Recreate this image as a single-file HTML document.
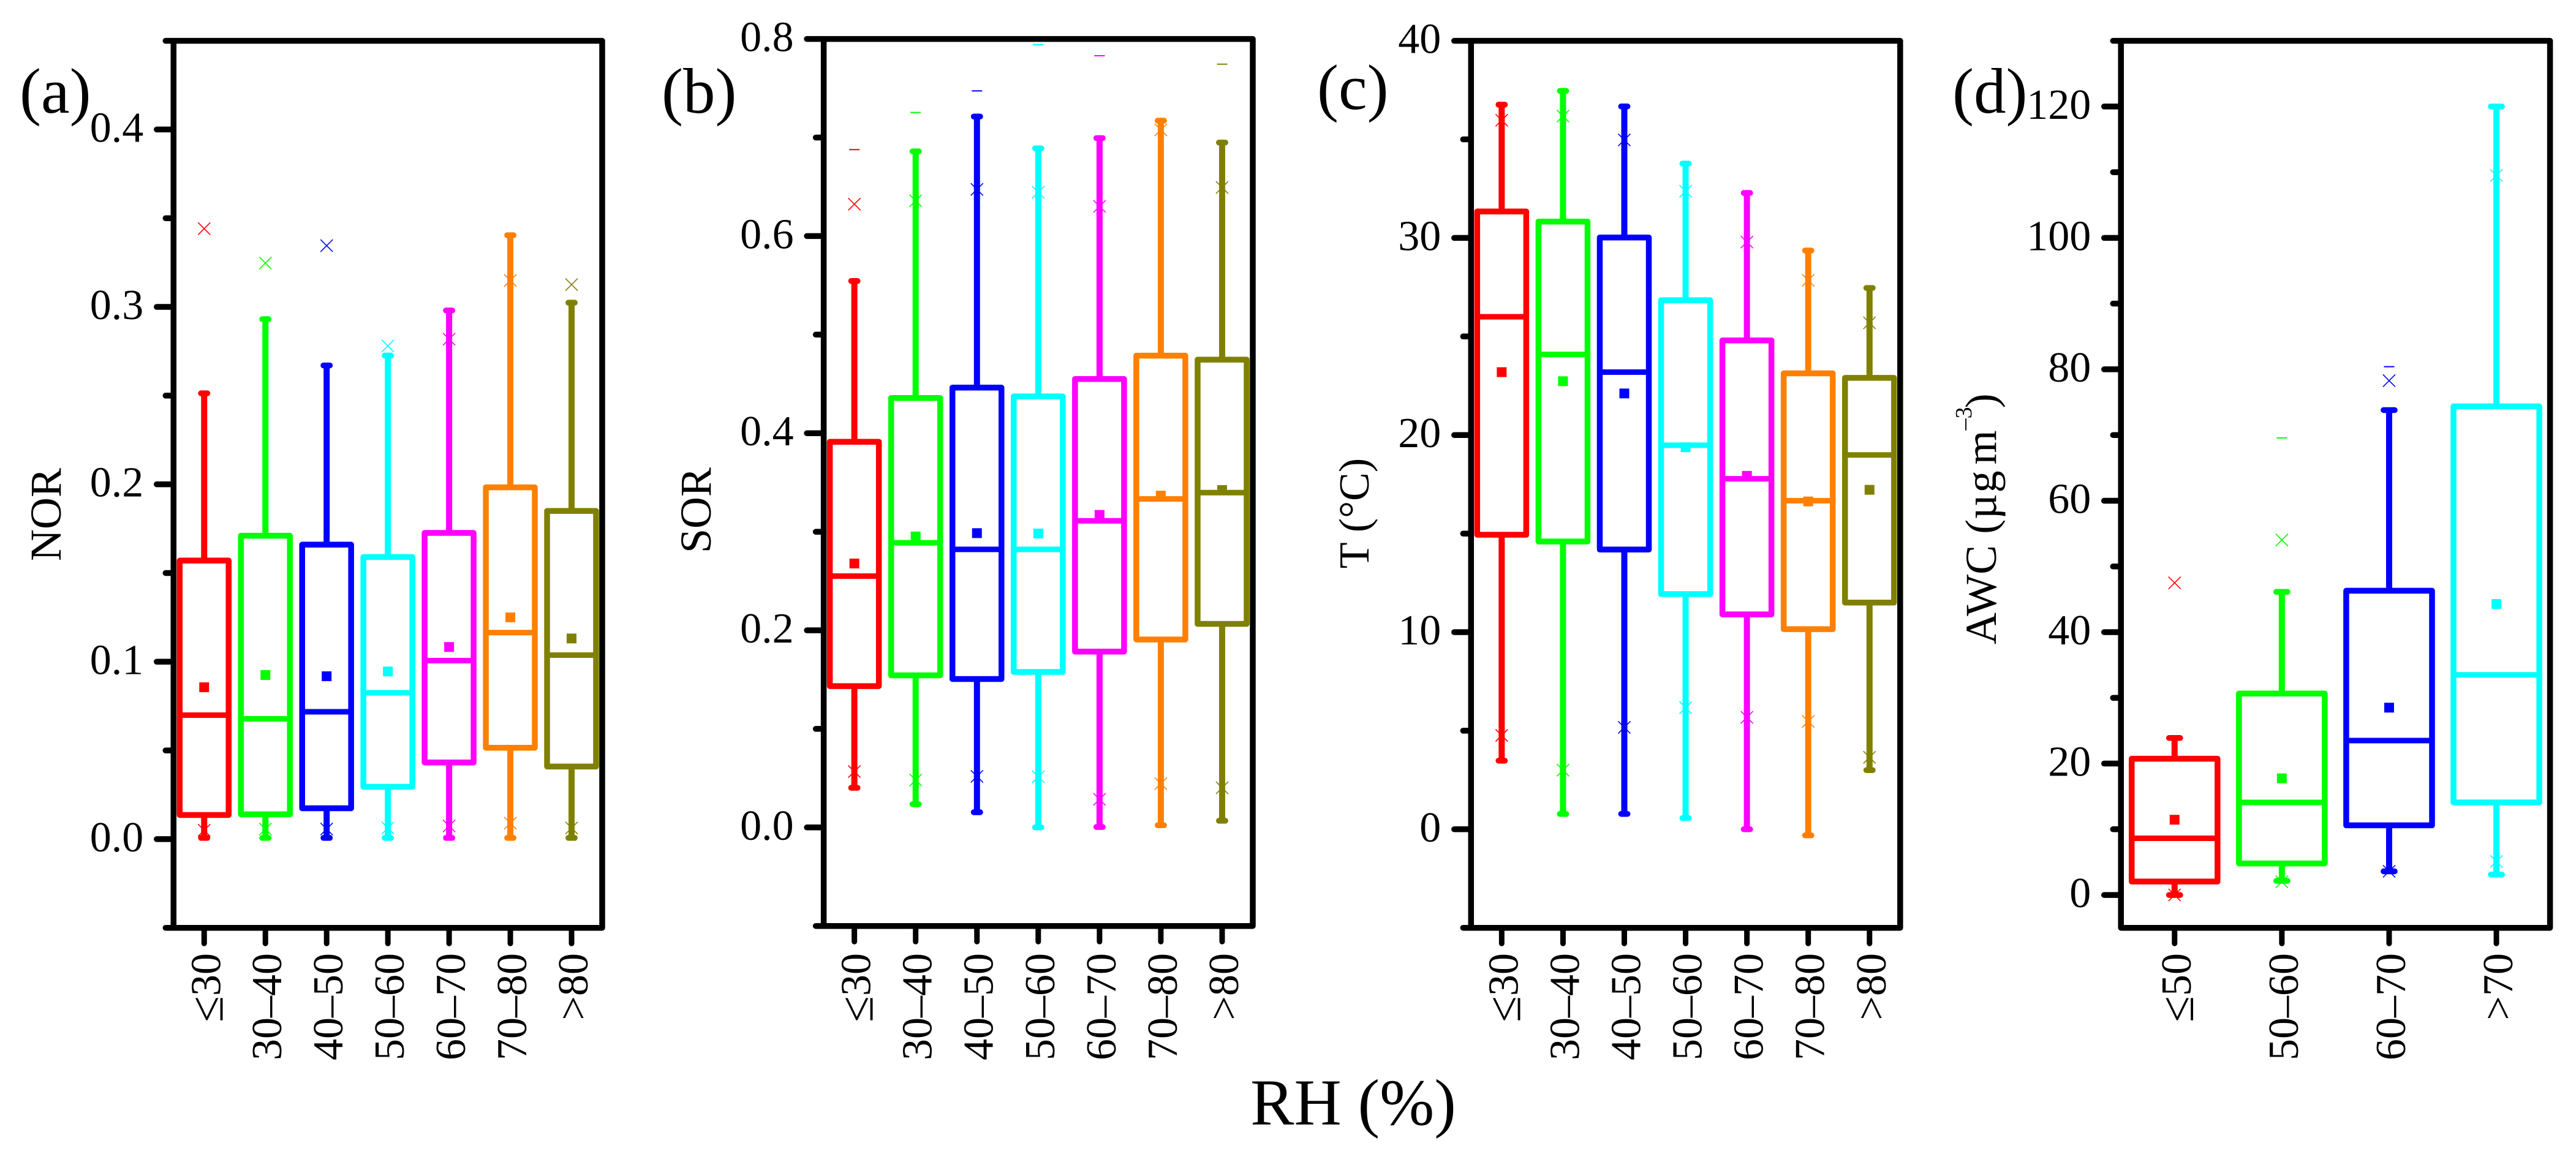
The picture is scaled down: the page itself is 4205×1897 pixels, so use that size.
<!DOCTYPE html>
<html lang="en">
<head>
<meta charset="utf-8">
<title>Box plots of NOR, SOR, T and AWC by RH</title>
<style>
html,body{margin:0;padding:0;background:#fff;width:4205px;height:1897px;overflow:hidden}
svg{display:block;position:absolute;left:0;top:0}
text{font-family:"Liberation Serif","Times New Roman",serif;fill:#000}
</style>
</head>
<body>
<svg id="figure" xmlns="http://www.w3.org/2000/svg" width="4205" height="1897" viewBox="0 0 4205 1897"></svg>
<script>
// ---- shared categories and colours
const rhCategories = ['≤30', '30–40', '40–50', '50–60', '60–70', '70–80', '>80'];
const awcCategories = ['≤50', '50–60', '60–70', '>70'];
const boxColors = ['#ff0000', '#00ff00', '#0000ff', '#00ffff', '#ff00ff', '#ff8000', '#808000'];

// ---- panel (a) NOR
const norMajorTicks = [0.0, 0.1, 0.2, 0.3, 0.4];
const norTickLabels = ['0.0', '0.1', '0.2', '0.3', '0.4'];
const norMinorTicks = [-0.05, 0.05, 0.15, 0.25, 0.35, 0.45];
const norQ1 = [0.0136, 0.014, 0.0174, 0.0295, 0.0432, 0.0515, 0.0409];
const norMedian = [0.0699, 0.0678, 0.0718, 0.0825, 0.1006, 0.1164, 0.1037];
const norQ3 = [0.157, 0.171, 0.166, 0.159, 0.1726, 0.1983, 0.185];
const norMean = [0.0856, 0.0925, 0.0918, 0.0945, 0.1083, 0.125, 0.1131];
const norWhiskerLow = [0.0007, 0.0007, 0.0007, 0.0007, 0.0007, 0.0007, 0.0007];
const norWhiskerHigh = [0.2513, 0.2931, 0.267, 0.2726, 0.298, 0.3404, 0.3024];
const norCrossLow = [0.005, 0.0057, 0.0057, 0.0063, 0.0074, 0.009, 0.0063];
const norCrossHigh = [0.3441, 0.3247, 0.3345, 0.278, 0.2818, 0.3149, 0.3126];
const norDash = [null, null, null, null, null, null, null];

// ---- panel (b) SOR
const sorMajorTicks = [0.0, 0.2, 0.4, 0.6, 0.8];
const sorTickLabels = ['0.0', '0.2', '0.4', '0.6', '0.8'];
const sorMinorTicks = [-0.1, 0.1, 0.3, 0.5, 0.7];
const sorQ1 = [0.1434, 0.1543, 0.1506, 0.1577, 0.1784, 0.1907, 0.2065];
const sorMedian = [0.255, 0.2888, 0.2821, 0.2821, 0.3111, 0.3333, 0.3397];
const sorQ3 = [0.3913, 0.4357, 0.4463, 0.4373, 0.455, 0.4787, 0.4746];
const sorMean = [0.2678, 0.2952, 0.2986, 0.2982, 0.3171, 0.3366, 0.3423];
const sorWhiskerLow = [0.0402, 0.0236, 0.0154, 0.0, 0.0004, 0.0022, 0.0068];
const sorWhiskerHigh = [0.5544, 0.6859, 0.7213, 0.689, 0.6994, 0.7171, 0.6949];
const sorCrossLow = [0.0567, 0.0481, 0.0518, 0.0514, 0.0285, 0.0444, 0.0402];
const sorCrossHigh = [0.6324, 0.6358, 0.6474, 0.6444, 0.6301, 0.7077, 0.6493];
const sorDash = [0.6877, 0.7254, 0.7473, 0.7943, 0.783, null, 0.7744];

// ---- panel (c) T
const tempMajorTicks = [0, 10, 20, 30, 40];
const tempTickLabels = ['0', '10', '20', '30', '40'];
const tempMinorTicks = [-5, 5, 15, 25, 35];
const tempQ1 = [14.94, 14.6, 14.19, 11.93, 10.9, 10.15, 11.5];
const tempMedian = [26.0, 24.09, 23.19, 19.48, 17.78, 16.67, 18.99];
const tempQ3 = [31.34, 30.83, 30.02, 26.84, 24.8, 23.13, 22.9];
const tempMean = [23.19, 22.73, 22.11, 19.38, 17.93, 16.63, 17.22];
const tempWhiskerLow = [3.48, 0.78, 0.78, 0.57, 0.0, -0.31, 3.0];
const tempWhiskerHigh = [36.76, 37.46, 36.67, 33.77, 32.28, 29.36, 27.46];
const tempCrossLow = [4.76, 3.0, 5.17, 6.17, 5.68, 5.47, 3.65];
const tempCrossHigh = [35.97, 36.18, 34.97, 32.37, 29.79, 27.85, 25.69];
const tempDash = [null, null, null, null, null, null, null];

// ---- panel (d) AWC
const awcMajorTicks = [0, 20, 40, 60, 80, 100, 120];
const awcTickLabels = ['0', '20', '40', '60', '80', '100', '120'];
const awcMinorTicks = [10, 30, 50, 70, 90, 110, 130];
const awcQ1 = [2.04, 4.8, 10.6, 14.08];
const awcMedian = [8.63, 14.08, 23.5, 33.5];
const awcQ3 = [20.74, 30.65, 46.3, 74.37];
const awcMean = [11.45, 17.75, 28.51, 44.28];
const awcWhiskerLow = [0.0, 2.15, 3.6, 3.11];
const awcWhiskerHigh = [23.89, 46.13, 73.8, 120.0];
const awcCrossLow = [0.0, 2.0, 3.6, 5.1];
const awcCrossHigh = [47.5, 54.03, 78.27, 109.5];
const awcDash = [null, 69.56, 80.4, null];

// ---- drawing helpers
const svg = document.getElementById('figure');
const NS = 'http://www.w3.org/2000/svg';
function make(parent, tag, attrs, text) {
  const el = document.createElementNS(NS, tag);
  for (const k in attrs) el.setAttribute(k, attrs[k]);
  if (text !== undefined) el.textContent = text;
  parent.appendChild(el);
  return el;
}

function drawPanel(p) {
  const yScale = v => p.bottom - (v - p.yMin) / (p.yMax - p.yMin) * (p.bottom - p.top);
  const step = (p.right - p.left) / p.categories.length;
  const xScale = i => p.left + step * (i + 0.5);
  const boxW = step * 0.8;
  const capHalf = boxW * 0.065;

  const panel = make(svg, 'g', {});
  
  

  // boxes
  p.categories.forEach((cat, i) => {
    const c = boxColors[i];
    const x = xScale(i);
    const g = make(panel, 'g', {stroke: c, fill: 'none'});
    
    

    const wHi = make(g, 'line', {x1: x, x2: x, y1: yScale(p.whiskerHigh[i]), y2: yScale(p.q3[i]), 'stroke-width': 10});
    
    
    const wLo = make(g, 'line', {x1: x, x2: x, y1: yScale(p.q1[i]), y2: yScale(p.whiskerLow[i]), 'stroke-width': 10});
    
    

    const capHi = make(g, 'line', {x1: x - capHalf, x2: x + capHalf, y1: yScale(p.whiskerHigh[i]), y2: yScale(p.whiskerHigh[i]), 'stroke-width': 9.5, 'stroke-linecap': 'round'});
    
    
    const capLo = make(g, 'line', {x1: x - capHalf, x2: x + capHalf, y1: yScale(p.whiskerLow[i]), y2: yScale(p.whiskerLow[i]), 'stroke-width': 9.5, 'stroke-linecap': 'round'});
    
    

    const rect = make(g, 'rect', {x: x - boxW / 2, y: yScale(p.q3[i]), width: boxW, height: yScale(p.q1[i]) - yScale(p.q3[i]), 'stroke-width': 9.5, 'stroke-linejoin': 'round'});
    
    
    const med = make(g, 'line', {x1: x - boxW / 2, x2: x + boxW / 2, y1: yScale(p.median[i]), y2: yScale(p.median[i]), 'stroke-width': 9});
    
    

    const mean = make(g, 'rect', {x: x - 8, y: yScale(p.mean[i]) - 8, width: 16, height: 16, fill: c, stroke: 'none'});
    
    

    [p.crossLow[i], p.crossHigh[i]].forEach(v => {
      const yy = yScale(v);
      const cross = make(g, 'path', {d: 'M' + (x - 10) + ' ' + (yy - 10) + 'L' + (x + 10) + ' ' + (yy + 10) + 'M' + (x - 10) + ' ' + (yy + 10) + 'L' + (x + 10) + ' ' + (yy - 10), 'stroke-width': 1.6});
      
      
    });

    if (p.dash[i] !== null) {
      const dash = make(g, 'line', {x1: x - 8.5, x2: x + 8.5, y1: yScale(p.dash[i]), y2: yScale(p.dash[i]), 'stroke-width': 2});
      
      
    }
  });

  // y ticks
  const sw = 9.5;
  p.majorTicks.forEach((v, i) => {
    const yy = yScale(v);
    const t = make(panel, 'line', {x1: p.left - 27.5, x2: p.left, y1: yy, y2: yy, stroke: '#000', 'stroke-width': 9.5, 'stroke-linecap': 'round'});
    
    
    const lab = make(panel, 'text', {x: p.left - 49, y: yy + 20, 'text-anchor': 'end', 'font-size': 70}, p.tickLabels[i]);
    
    
  });
  p.minorTicks.forEach(v => {
    const yy = yScale(v);
    const t = make(panel, 'line', {x1: p.left - 13, x2: p.left, y1: yy, y2: yy, stroke: '#000', 'stroke-width': 9.5, 'stroke-linecap': 'round'});
    
    
  });

  // x ticks and labels
  p.categories.forEach((cat, i) => {
    const x = xScale(i);
    const t = make(panel, 'line', {x1: x, x2: x, y1: p.bottom, y2: p.bottom + 25.5, stroke: '#000', 'stroke-width': 9, 'stroke-linecap': 'round'});
    
    
    const bx = x + 26;
    const lab = make(panel, 'text', {x: bx, y: 1556, 'text-anchor': 'end', 'font-size': 70, transform: 'rotate(-90 ' + bx + ' 1556)'});
    
    
    if (cat[0] === '≤') {
      make(lab, 'tspan', {'font-size': 78, dy: 4}, '≤');
      make(lab, 'tspan', {dy: -4}, cat.slice(1));
    } else {
      lab.textContent = cat;
    }
  });

  // frame
  const frame = make(panel, 'rect', {x: p.left, y: p.top, width: p.right - p.left, height: p.bottom - p.top, fill: 'none', stroke: '#000', 'stroke-width': sw, 'stroke-linejoin': 'round'});
  
  

  // panel letter
  const letter = make(panel, 'text', {x: p.letterX, y: p.letterY, 'font-size': 105}, p.letter);
  
  
}

drawPanel({id: 'a', letter: '(a)', letterX: 32, letterY: 184, left: 283.3, right: 983, top: 66.6, bottom: 1514.7, yMin: -0.05, yMax: 0.45,
  categories: rhCategories, majorTicks: norMajorTicks, tickLabels: norTickLabels, minorTicks: norMinorTicks,
  q1: norQ1, median: norMedian, q3: norQ3, mean: norMean, whiskerLow: norWhiskerLow, whiskerHigh: norWhiskerHigh,
  crossLow: norCrossLow, crossHigh: norCrossHigh, dash: norDash});
drawPanel({id: 'b', letter: '(b)', letterX: 1080, letterY: 184, left: 1344.6, right: 2045, top: 63.6, bottom: 1511.7, yMin: -0.1, yMax: 0.8,
  categories: rhCategories, majorTicks: sorMajorTicks, tickLabels: sorTickLabels, minorTicks: sorMinorTicks,
  q1: sorQ1, median: sorMedian, q3: sorQ3, mean: sorMean, whiskerLow: sorWhiskerLow, whiskerHigh: sorWhiskerHigh,
  crossLow: sorCrossLow, crossHigh: sorCrossHigh, dash: sorDash});
drawPanel({id: 'c', letter: '(c)', letterX: 2150, letterY: 178, left: 2401.3, right: 3101.8, top: 66.6, bottom: 1514.7, yMin: -5, yMax: 40,
  categories: rhCategories, majorTicks: tempMajorTicks, tickLabels: tempTickLabels, minorTicks: tempMinorTicks,
  q1: tempQ1, median: tempMedian, q3: tempQ3, mean: tempMean, whiskerLow: tempWhiskerLow, whiskerHigh: tempWhiskerHigh,
  crossLow: tempCrossLow, crossHigh: tempCrossHigh, dash: tempDash});
drawPanel({id: 'd', letter: '(d)', letterX: 3187, letterY: 184, left: 3462.2, right: 4162.6, top: 66.6, bottom: 1514.7, yMin: -5, yMax: 130,
  categories: awcCategories, majorTicks: awcMajorTicks, tickLabels: awcTickLabels, minorTicks: awcMinorTicks,
  q1: awcQ1, median: awcMedian, q3: awcQ3, mean: awcMean, whiskerLow: awcWhiskerLow, whiskerHigh: awcWhiskerHigh,
  crossLow: awcCrossLow, crossHigh: awcCrossHigh, dash: awcDash});

// ---- axis titles
const norTitle = make(svg, 'text', {x: 99, y: 840, 'text-anchor': 'middle', 'font-size': 72, transform: 'rotate(-90 99 840)'}, 'NOR');


const sorTitle = make(svg, 'text', {x: 1160, y: 833, 'text-anchor': 'middle', 'font-size': 72, transform: 'rotate(-90 1160 833)'}, 'SOR');


const tempTitle = make(svg, 'text', {x: 2234, y: 838, 'text-anchor': 'middle', 'font-size': 70, transform: 'rotate(-90 2234 838)'}, 'T (°C)');



const awcTitle = make(svg, 'text', {x: 3258, y: 1052, 'font-size': 72, transform: 'rotate(-90 3258 1052)'});


make(awcTitle, 'tspan', {}, 'AWC (µ');
make(awcTitle, 'tspan', {dx: 2}, 'g');
make(awcTitle, 'tspan', {dx: 10}, 'm');
make(awcTitle, 'tspan', {dy: -40, 'font-size': 38}, '–3');
make(awcTitle, 'tspan', {dy: 40, dx: -2}, ')');

const xTitle = make(svg, 'text', {x: 2209, y: 1836, 'text-anchor': 'middle', 'font-size': 107}, 'RH (%)');


</script>
</body>
</html>
